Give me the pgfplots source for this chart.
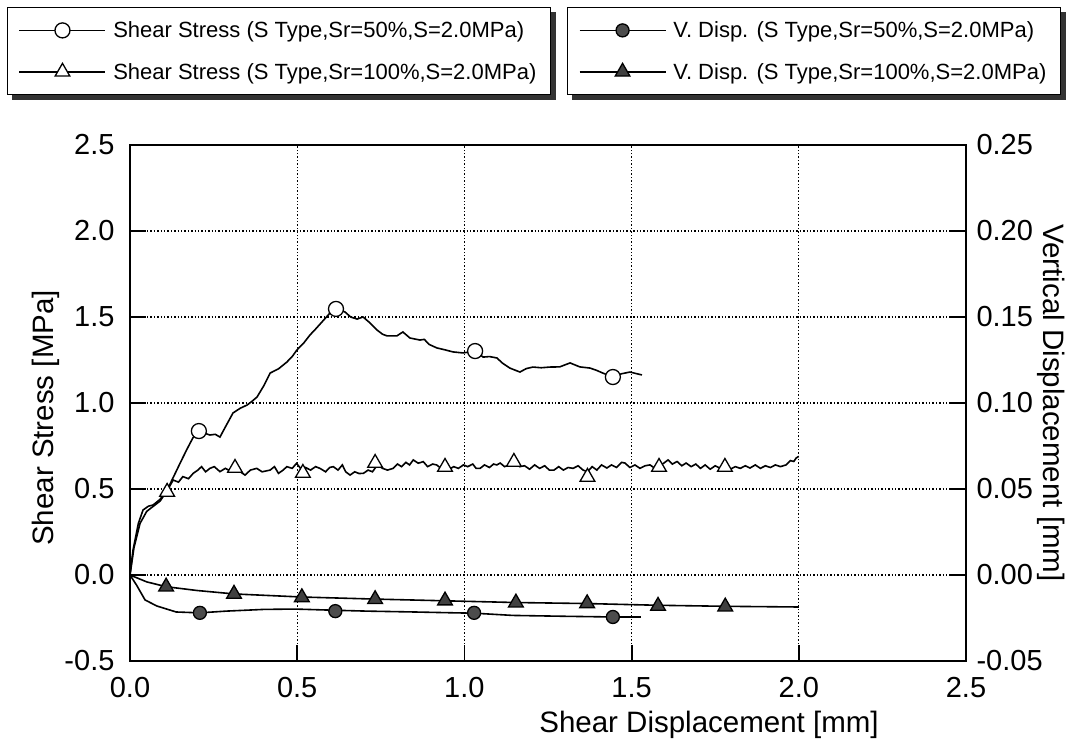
\documentclass[border=0pt]{standalone}
\usepackage{pgfplots}
\pgfplotsset{compat=1.18}
\usepackage{pgfplotstable}
\usepackage{fontspec}
\setmainfont{Liberation Sans}

% Shear stress, S type, Sr=50%
\pgfplotstableread{
x y
0 0
0.009 0.145
0.025 0.30
0.039 0.378
0.055 0.40
0.069 0.407
0.09 0.44
0.111 0.494
0.130 0.57
0.150 0.651
0.170 0.73
0.188 0.797
0.206 0.837
0.222 0.825
0.239 0.814
0.255 0.818
0.269 0.802
0.285 0.86
0.308 0.942
0.330 0.97
0.350 0.988
0.365 1.01
0.380 1.035
0.400 1.10
0.419 1.174
0.445 1.20
0.469 1.238
0.485 1.27
0.499 1.308
0.520 1.35
0.538 1.395
0.555 1.43
0.574 1.471
0.598 1.523
0.616 1.547
0.630 1.54
0.643 1.529
0.660 1.50
0.679 1.488
0.697 1.500
0.715 1.47
0.739 1.424
0.755 1.40
0.769 1.390
0.798 1.390
0.816 1.413
0.837 1.378
0.867 1.366
0.880 1.37
0.895 1.34
0.918 1.320
0.940 1.31
0.966 1.297
0.996 1.291
1.032 1.302
1.056 1.267
1.075 1.27
1.097 1.262
1.115 1.23
1.136 1.203
1.166 1.180
1.185 1.20
1.205 1.209
1.230 1.205
1.256 1.209
1.285 1.21
1.316 1.233
1.345 1.21
1.376 1.203
1.395 1.19
1.414 1.174
1.444 1.151
1.470 1.17
1.495 1.180
1.531 1.163
}\ssfifty

% Shear stress, S type, Sr=100%
\pgfplotstableread{
x y
0 0
0.012 0.16
0.030 0.30
0.050 0.37
0.070 0.40
0.090 0.43
0.111 0.49
0.129 0.552
0.145 0.54
0.158 0.572
0.175 0.56
0.189 0.591
0.203 0.61
0.214 0.630
0.226 0.60
0.239 0.620
0.252 0.63
0.269 0.601
0.285 0.62
0.300 0.605
0.314 0.62
0.330 0.60
0.344 0.581
0.360 0.61
0.379 0.620
0.395 0.60
0.419 0.610
0.432 0.63
0.444 0.591
0.458 0.61
0.469 0.630
0.485 0.62
0.498 0.649
0.510 0.62
0.525 0.625
0.540 0.61
0.555 0.63
0.568 0.620
0.585 0.60
0.597 0.625
0.608 0.630
0.622 0.61
0.635 0.64
0.645 0.60
0.658 0.581
0.672 0.60
0.685 0.59
0.698 0.591
0.712 0.61
0.725 0.60
0.740 0.64
0.755 0.62
0.770 0.61
0.787 0.620
0.800 0.645
0.812 0.63
0.825 0.655
0.836 0.64
0.847 0.669
0.862 0.65
0.877 0.659
0.890 0.63
0.905 0.645
0.917 0.640
0.930 0.62
0.942 0.64
0.955 0.615
0.968 0.63
0.982 0.62
0.997 0.640
1.010 0.63
1.025 0.645
1.035 0.62
1.047 0.620
1.060 0.64
1.075 0.625
1.087 0.645
1.097 0.640
1.107 0.651
1.120 0.63
1.135 0.64
1.150 0.665
1.165 0.63
1.180 0.635
1.195 0.615
1.210 0.64
1.225 0.62
1.240 0.635
1.254 0.61
1.268 0.610
1.282 0.63
1.296 0.61
1.310 0.625
1.325 0.62
1.340 0.635
1.355 0.61
1.368 0.600
1.382 0.63
1.396 0.61
1.410 0.64
1.426 0.622
1.440 0.64
1.455 0.625
1.470 0.655
1.480 0.651
1.495 0.625
1.510 0.64
1.525 0.62
1.540 0.635
1.555 0.64
1.570 0.62
1.582 0.635
1.596 0.65
1.609 0.669
1.622 0.645
1.636 0.66
1.650 0.635
1.663 0.651
1.678 0.63
1.692 0.645
1.706 0.62
1.720 0.64
1.735 0.615
1.750 0.635
1.765 0.62
1.779 0.635
1.795 0.615
1.810 0.63
1.825 0.62
1.840 0.635
1.854 0.622
1.870 0.64
1.885 0.62
1.900 0.635
1.915 0.625
1.930 0.64
1.945 0.63
1.962 0.640
1.975 0.665
1.985 0.66
1.992 0.680
2.000 0.690
}\sshundred

% Vertical displacement, Sr=50%
\pgfplotstableread{
x y
0 0
0.020 -0.006
0.045 -0.0145
0.080 -0.018
0.138 -0.0215
0.209 -0.022
0.287 -0.021
0.400 -0.0200
0.493 -0.0198
0.613 -0.0205
0.709 -0.0210
0.850 -0.0215
0.972 -0.0220
1.029 -0.0222
1.145 -0.0235
1.300 -0.0240
1.444 -0.0244
1.528 -0.0244
}\vdfifty

% Vertical displacement, Sr=100%
\pgfplotstableread{
x y
0 0
0.050 -0.0040
0.108 -0.0068
0.200 -0.0090
0.311 -0.0110
0.514 -0.0128
0.733 -0.0140
0.942 -0.0150
1.154 -0.0160
1.367 -0.0166
1.579 -0.0176
1.780 -0.0182
2.000 -0.0186
}\vdhundred

\pgfplotstableread{
x y
0.206 0.837
0.616 1.547
1.032 1.302
1.444 1.151
}\ssfiftymarks

\pgfplotstableread{
x y
0.111 0.483
0.314 0.622
0.517 0.593
0.733 0.651
0.942 0.628
1.148 0.657
1.368 0.570
1.582 0.628
1.779 0.628
}\sshundredmarks

\pgfplotstableread{
x y
0.209 -0.0220
0.614 -0.0210
1.029 -0.0220
1.444 -0.0244
}\vdfiftymarks

\pgfplotstableread{
x y
0.108 -0.0068
0.311 -0.0110
0.514 -0.0130
0.733 -0.0141
0.942 -0.0149
1.154 -0.0161
1.367 -0.0165
1.579 -0.0180
1.780 -0.0184
}\vdhundredmarks

\pgfplotsset{
  common/.style={
    at={(130pt,79pt)}, anchor=south west,
    scale only axis, width=836pt, height=516pt,
    xmin=0, xmax=2.5,
    tick align=inside,
    major tick length=16pt,
    every tick/.style={black, line width=1.8pt},
    axis line style={line width=1.5pt},
    tick label style={font=\fontsize{29}{30}\selectfont},
    /pgf/number format/assume math mode=true,
    legend image code/.code={%
      \draw[#1,mark=none,line width=1.6pt] (0pt,0pt) -- (86pt,0pt);
      \draw[#1] plot coordinates {(43pt,0pt)};
    },
    legend cell align=left,
  },
  legbox/.style={
    draw=black, line width=1.3pt, fill=white,
    font=\fontsize{22}{24}\selectfont,
    inner xsep=11pt, inner ysep=11pt, row sep=18pt, column sep=4pt,
    nodes={inner sep=3pt},
  },
}

\begin{document}
\begin{tikzpicture}
\path[use as bounding box] (0,0) rectangle (1067pt,740pt);
\begin{axis}[
  common,
  ymin=-0.5, ymax=2.5,
  xtick={0,0.5,1,1.5,2,2.5},
  ytick={-0.5,0,0.5,1,1.5,2,2.5},
  tick pos=left,
  grid=major,
  major grid style={black, line width=1.3pt, dash pattern=on 1.4pt off 2pt},
  xticklabel style={/pgf/number format/.cd,fixed,fixed zerofill,precision=1},
  yticklabel style={/pgf/number format/.cd,fixed,fixed zerofill,precision=1},
  xticklabel shift=13pt,
  yticklabel shift=12pt,
  every axis x label/.style={at={(axis description cs:0.6926,-0.1376)}, anchor=base, font=\fontsize{29.5}{30}\selectfont},
  every axis y label/.style={at={(axis description cs:-0.0921,0.471)}, anchor=base, rotate=90, font=\fontsize{29.5}{30}\selectfont},
  xlabel={Shear Displacement [mm]},
  ylabel={Shear Stress [MPa]},
  legend style={legbox, name=legA, at={(axis description cs:-0.1471,1.2674)}, anchor=north west},
]
\addplot[black, line width=1.6pt, forget plot] table {\ssfifty};
\addplot[black, line width=1.6pt, forget plot] table {\sshundred};
\addplot[black, line width=1.3pt, only marks, mark=*, mark size=7.5pt, mark options={fill=white, draw=black}] table {\ssfiftymarks};
\addlegendentry{Shear Stress (S Type,Sr=50\%,S=2.0MPa)}
\addplot[black, line width=1.3pt, only marks, mark=triangle*, mark size=8.5pt, mark options={fill=white, draw=black}] table {\sshundredmarks};
\addlegendentry{Shear Stress (S Type,Sr=100\%,S=2.0MPa)}
\end{axis}
\begin{axis}[
  common,
  ymin=-0.05, ymax=0.25,
  axis x line=none,
  axis y line*=right,
  y axis line style={-},
  ytick={-0.05,0,0.05,0.1,0.15,0.2,0.25},
  yticklabel style={/pgf/number format/.cd,fixed,fixed zerofill,precision=2},
  yticklabel shift=7pt,
  every axis y label/.style={at={(axis description cs:1.0921,0.5)}, anchor=base, rotate=-90, font=\fontsize{29.5}{30}\selectfont},
  ylabel={Vertical Displacement [mm]},
  legend style={legbox, name=legB, at={(axis description cs:1.1136,1.2674)}, anchor=north east},
]
\addplot[black, line width=1.6pt, forget plot] table {\vdfifty};
\addplot[black, line width=1.6pt, forget plot] table {\vdhundred};
\addplot[black, line width=1.3pt, only marks, mark=*, mark size=6.5pt, mark options={fill=black!70, draw=black}] table {\vdfiftymarks};
\addlegendentry{V. Disp. (S Type,Sr=50\%,S=2.0MPa)}
\addplot[black, line width=1.3pt, only marks, mark=triangle*, mark size=8.5pt, mark options={fill=black!75, draw=black}] table {\vdhundredmarks};
\addlegendentry{V. Disp. (S Type,Sr=100\%,S=2.0MPa)}
\end{axis}
% 3-D look of the legend frames (thick dark lower and right edges)
\foreach \L in {legA,legB}{
  \fill[black!80] ([xshift=5pt]\L.south west) rectangle ([xshift=5pt,yshift=-5pt]\L.south east);
  \fill[black!80] ([yshift=-5pt]\L.north east) rectangle ([xshift=5pt]\L.south east);
}
\end{tikzpicture}
\end{document}
